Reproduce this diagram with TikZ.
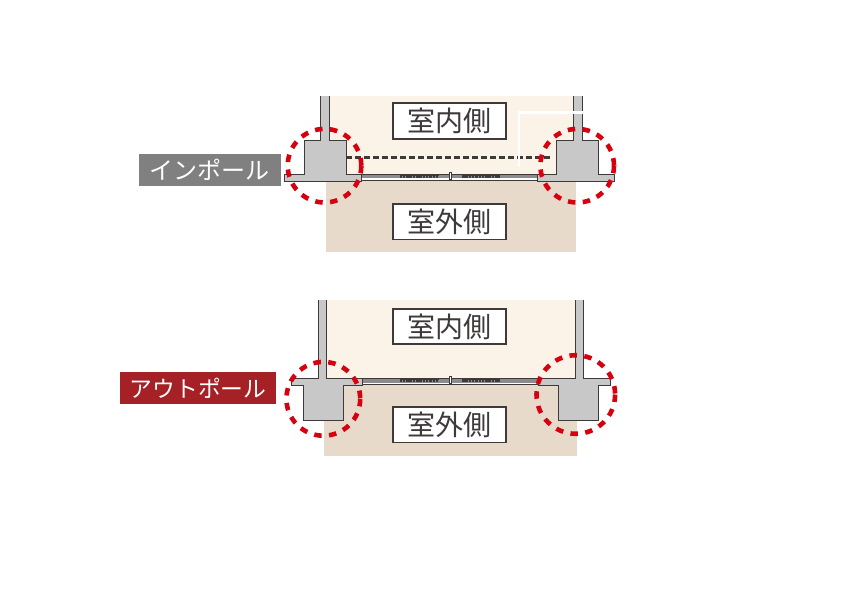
\documentclass[tikz,border=0pt]{standalone}
\usepackage{fontspec}
\setmainfont{Noto Sans CJK JP}
\definecolor{ink}{HTML}{3E3A39}
\definecolor{cream}{HTML}{FBF3E7}
\definecolor{sand}{HTML}{E7DACA}
\definecolor{concrete}{HTML}{C8C8C8}
\definecolor{ringred}{HTML}{D7000F}
\definecolor{polegray}{HTML}{808080}
\definecolor{polered}{HTML}{A52126}

% sliding window between the two flanges, #1 = top of the rail
\newcommand{\windowrail}[1]{
  \fill[white] (361,#1) rectangle (538,#1+6);
  \fill[concrete!70!black] (361,#1) rectangle (538,#1+4);
  \draw[ink,line width=1.1pt] (361,#1+.3) -- (538,#1+.3);
  \draw[ink,line width=1.1pt] (361,#1+6.3) -- (538,#1+6.3);
  \foreach \xa/\xb in {399.5/439,462/500}{
    \draw[ink,line width=1.6pt] (\xa,#1+1) -- (\xb,#1+1);
    \draw[ink,line width=2pt,dash pattern=on 2.5pt off .8pt] (\xa,#1+2.8) -- (\xb,#1+2.8);
  }
  \draw[ink,fill=white,line width=.9pt] (449.8,#1-2) rectangle (451.8,#1+5);
}

\begin{document}
\begin{tikzpicture}[x=1pt,y=-1pt]
  \tikzstyle{roomlabel}=[rectangle,draw=ink,fill=white,line width=1.7pt,text=ink,
                         minimum width=113pt,minimum height=35.5pt,inner sep=0pt,font=\fontsize{28}{28}\selectfont]
  \tikzstyle{polelabel}=[rectangle,text=white,inner sep=0pt]
  \tikzstyle{wallbody}=[draw=ink,fill=concrete,line width=1pt,line join=miter]
  \tikzstyle{ring}=[draw=ringred,line width=4.6pt,dash pattern=on 7.5pt off 7.4pt]

  \useasboundingbox (0,0) rectangle (864,600);
  \fill[white] (0,0) rectangle (864,600);

  % inner pole
  \fill[cream] (329,96) rectangle (576,174);
  \fill[sand] (326,181) rectangle (576,251.5);
  \windowrail{174}
  \draw[ink,line width=2.5pt,dash pattern=on 5.5pt off 3.5pt] (346,157.5) -- (552,157.5);
  \draw[white,line width=2.2pt] (519,166.5) -- (519,112.5) -- (582.5,112.5);
  \draw[wallbody] (320.7,96) -- (320.7,140) -- (304,140) -- (304,174) -- (284.3,174) -- (284.3,181.3)
    -- (361.7,181.3) -- (361.7,174) -- (346,174) -- (346,140) -- (329.3,140) -- (329.3,96);
  \draw[wallbody] (573.3,96) -- (573.3,140) -- (556.7,140) -- (556.7,174) -- (537.3,174) -- (537.3,181.3)
    -- (614,181.3) -- (614,174) -- (598.3,174) -- (598.3,140) -- (582,140) -- (582,96);
  \draw[white,line width=2.2pt] (573.3,112.5) -- (582.5,112.5);

  \node[roomlabel] (in1) at (449.7,121) {室内側};
  \node[roomlabel] (out1) at (449.7,221.7) {室外側};
  \node[polelabel,fill=polegray,minimum width=141.7pt,minimum height=31.7pt,font=\fontsize{24}{25}\selectfont] (pole1) at (209.8,170.2) {インポール};

  \draw[ring] (324.5,165.7) circle (36.8);
  \draw[ring] (577.2,165.7) circle (36.8);

  % outer pole
  \fill[cream] (326,300) rectangle (575.5,378.3);
  \fill[sand] (324,385) rectangle (577.3,456);
  \windowrail{378.5}
  \draw[wallbody] (318.7,300) -- (318.7,378.3) -- (291.3,378.3) -- (291.3,385.3) -- (303.3,385.3) -- (303.3,420.7)
    -- (343.3,420.7) -- (343.3,385.3) -- (362.7,385.3) -- (362.7,378.3) -- (326.7,378.3) -- (326.7,300);
  \draw[wallbody] (575,300) -- (575,378.3) -- (538.7,378.3) -- (538.7,385.3) -- (558,385.3) -- (558,420.7)
    -- (598.3,420.7) -- (598.3,385.3) -- (610.7,385.3) -- (610.7,378.3) -- (583.3,378.3) -- (583.3,300);

  \node[roomlabel] (in2) at (449.7,326.5) {室内側};
  \node[roomlabel] (out2) at (449.7,424.7) {室外側};
  \node[polelabel,fill=polered,minimum width=156pt,minimum height=32pt,font=\fontsize{22.8}{25}\selectfont] (pole2) at (198,388) {アウトポール};

  \draw[ring] (323.3,398.8) circle (36.9);
  \draw[ring] (575.8,394.5) circle (39.3);
\end{tikzpicture}
\end{document}
